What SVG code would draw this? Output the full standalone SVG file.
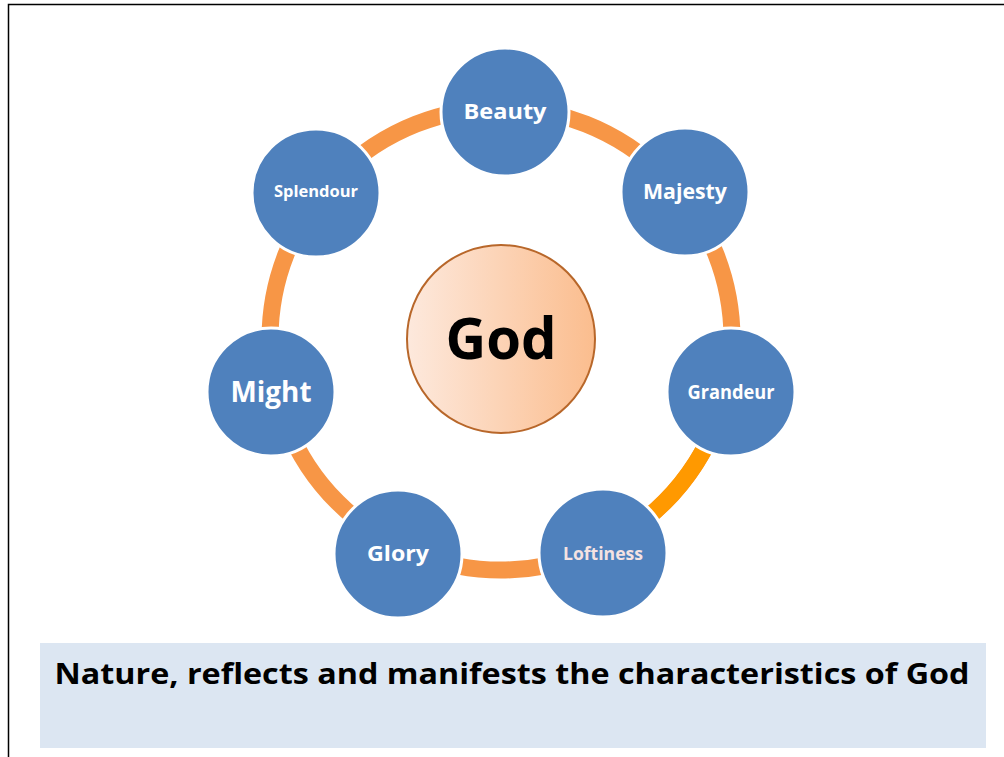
<svg xmlns="http://www.w3.org/2000/svg" width="1004" height="757" viewBox="0 0 1004 757">
<style>
.node{fill:#4F81BD;stroke:#FFFFFF;stroke-width:3}
.lbl{font-family:"Open Sans","Liberation Sans",sans-serif;font-weight:bold;fill:#FFFFFF;text-anchor:middle}
.ring{fill:none;stroke:#F79646;stroke-width:17}
</style>
<defs>
<linearGradient id="godg" x1="0" y1="0" x2="1" y2="0">
<stop offset="0" stop-color="#FDE9DD"/>
<stop offset="1" stop-color="#FBBD8E"/>
</linearGradient>
</defs>
<rect x="0" y="0" width="1004" height="757" fill="#FFFFFF"/>
<path d="M8.5 757 V4.5 H1004" fill="none" stroke="#000000" stroke-width="1.5"/>
<g id="connectors">
<circle class="ring" cx="501" cy="339" r="231"/>
<path d="M726.1 391 A231 231 0 0 1 600.4 547.5" fill="none" stroke="#FF9900" stroke-width="17"/>
</g>
<g id="god">
<circle cx="501" cy="339" r="94" fill="url(#godg)" stroke="#B8672A" stroke-width="2"/>
<text x="501" y="359" class="lbl" style="fill:#000000;font-size:58px" textLength="111" lengthAdjust="spacingAndGlyphs">God</text>
</g>
<g id="beauty">
<circle class="node" cx="505" cy="112" r="64"/>
<text x="505" y="119" class="lbl" font-size="21" textLength="83" lengthAdjust="spacingAndGlyphs">Beauty</text>
</g>
<g id="majesty">
<circle class="node" cx="685" cy="192" r="64"/>
<text x="685" y="199" class="lbl" font-size="21" textLength="84" lengthAdjust="spacingAndGlyphs">Majesty</text>
</g>
<g id="grandeur">
<circle class="node" cx="731" cy="392" r="64"/>
<text x="731" y="399" class="lbl" font-size="19" textLength="87" lengthAdjust="spacingAndGlyphs">Grandeur</text>
</g>
<g id="loftiness">
<circle class="node" cx="603" cy="553" r="64"/>
<text x="603" y="560" class="lbl" style="fill:#F4E2E2" font-size="18" textLength="80" lengthAdjust="spacingAndGlyphs">Loftiness</text>
</g>
<g id="glory">
<circle class="node" cx="398" cy="554" r="64"/>
<text x="398" y="561" class="lbl" font-size="22" textLength="62" lengthAdjust="spacingAndGlyphs">Glory</text>
</g>
<g id="might">
<circle class="node" cx="271" cy="392" r="64"/>
<text x="271" y="402" class="lbl" font-size="28" textLength="81" lengthAdjust="spacingAndGlyphs">Might</text>
</g>
<g id="splendour">
<circle class="node" cx="316" cy="193" r="64"/>
<text x="316" y="197" class="lbl" font-size="16" textLength="84" lengthAdjust="spacingAndGlyphs">Splendour</text>
</g>
<g id="caption">
<rect x="40" y="643" width="946" height="105" fill="#DCE6F2"/>
<text x="512" y="684" style="font-family:'Open Sans','Liberation Sans',sans-serif;font-weight:bold;font-size:29px;fill:#000000;text-anchor:middle" textLength="915" lengthAdjust="spacingAndGlyphs">Nature, reflects and manifests the characteristics of God</text>
</g>
</svg>
